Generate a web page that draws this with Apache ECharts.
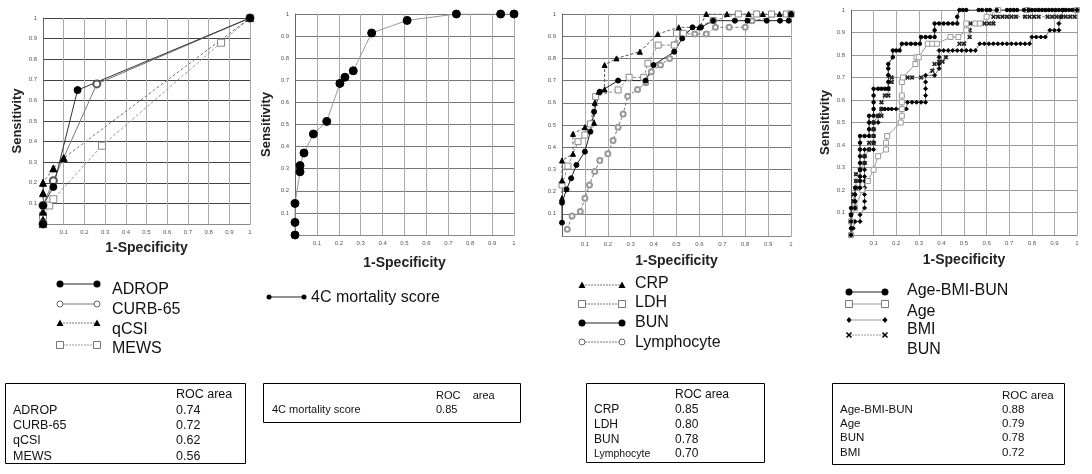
<!DOCTYPE html>
<html>
<head>
<meta charset="utf-8">
<script src="https://cdn.jsdelivr.net/npm/echarts@6/dist/echarts.min.js"></script>
<style>
html, body { margin: 0; padding: 0; background: #fff; }
#main { width: 1092px; height: 474px; }
</style>
</head>
<body>
<div id="main"></div>
<script>
// panel 1 : scores
var adrop  = [[0,0],[0,0.09],[0.05,0.18],[0.167,0.65],[1,1]];
var curb65 = [[0,0],[0,0.09],[0.05,0.21],[0.26,0.68],[1,1]];
var qcsi   = [[0,0],[0,0.02],[0,0.06],[0,0.15],[0,0.2],[0.05,0.27],[0.1,0.32],[1,1]];
var mews   = [[0,0],[0,0.04],[0.03,0.09],[0.05,0.12],[0.285,0.38],[0.86,0.88],[1,1]];

// panel 2 : 4C
var score4c = [[0,0],[0,0.057],[0,0.143],[0.023,0.286],[0.023,0.314],[0.041,0.371],[0.084,0.457],
  [0.145,0.514],[0.205,0.686],[0.228,0.714],[0.266,0.743],[0.35,0.914],[0.512,0.971],[0.737,1],[0.939,1],[1,1]];

// panel 3 : lab values
var crp = [[0,0.17],[0,0.25],[0,0.34],[0.048,0.37],[0.048,0.46],[0.1,0.49],[0.14,0.51],[0.143,0.6],[0.16,0.65],
  [0.186,0.66],[0.186,0.77],[0.238,0.8],[0.34,0.83],[0.418,0.91],[0.51,0.94],[0.6,0.94],[0.63,1],[0.72,1],
  [0.815,1],[0.877,1],[0.95,1],[1,1]];
var ldh = [[0,0.23],[0.026,0.315],[0.07,0.425],[0.1,0.455],[0.124,0.505],[0.147,0.628],[0.245,0.658],[0.293,0.715],
  [0.357,0.715],[0.375,0.778],[0.42,0.86],[0.49,0.86],[0.5,0.913],[0.53,0.913],[0.66,0.971],[0.77,1],[0.85,1],
  [0.915,1],[0.98,1],[1,1]];
var bun3 = [[0,0.06],[0,0.15],[0.02,0.21],[0.04,0.26],[0.063,0.32],[0.1,0.38],[0.124,0.47],[0.14,0.56],[0.165,0.65],
  [0.245,0.7],[0.365,0.7],[0.4,0.77],[0.49,0.83],[0.525,0.89],[0.57,0.94],[0.607,0.94],[0.66,0.97],[0.755,0.97],
  [0.81,0.97],[0.894,0.97],[0.952,0.97],[0.99,0.97],[1,1]];
var lymph = [[0.023,0.03],[0.044,0.09],[0.08,0.11],[0.1,0.17],[0.12,0.23],[0.143,0.29],[0.165,0.34],[0.2,0.37],
  [0.223,0.43],[0.245,0.49],[0.267,0.55],[0.287,0.63],[0.33,0.66],[0.366,0.69],[0.39,0.74],[0.43,0.77],[0.47,0.8],
  [0.49,0.86],[0.53,0.91],[0.58,0.91],[0.63,0.91],[0.67,0.94],[0.73,0.94],[0.8,0.94],[0.83,0.97],[1,1]];

// panel 4 : combination
var ageBmiBun = [[0,0],[0,0.03],[0,0.06],[0,0.09],[0,0.12],[0.018,0.12],[0.018,0.15],[0.018,0.18],[0.018,0.21],
  [0.04,0.21],[0.04,0.24],[0.04,0.26],[0.04,0.29],[0.04,0.32],[0.04,0.35],[0.04,0.38],[0.04,0.41],[0.04,0.44],
  [0.06,0.44],[0.08,0.44],[0.08,0.47],[0.08,0.5],[0.08,0.53],[0.1,0.53],[0.1,0.56],[0.1,0.59],[0.1,0.62],[0.1,0.65],
  [0.12,0.65],[0.135,0.65],[0.15,0.65],[0.165,0.65],[0.165,0.68],[0.165,0.71],[0.165,0.74],[0.165,0.76],
  [0.185,0.79],[0.185,0.82],[0.2,0.82],[0.215,0.82],[0.225,0.85],[0.245,0.85],[0.265,0.85],[0.285,0.85],
  [0.305,0.85],[0.31,0.88],[0.33,0.88],[0.35,0.88],[0.37,0.88],[0.37,0.91],[0.37,0.94],[0.39,0.94],[0.41,0.94],
  [0.43,0.94],[0.45,0.94],[0.47,0.94],[0.47,0.97],[0.48,1],[0.495,1],[0.51,1],[0.565,1],[0.58,1],[0.6,1],[0.615,1],
  [0.645,1],[0.69,1],[0.705,1],[0.72,1],[0.735,1],[0.765,1],[0.785,1],[0.8,1],[0.815,1],[0.83,1],[0.845,1],
  [0.86,1],[0.875,1],[0.89,1],[0.905,1],[0.92,1],[0.935,1],[0.95,1],[0.965,1],[0.98,1],[1,1]];
var age = [[0,0],[0,0.06],[0.018,0.12],[0.05,0.2],[0.075,0.24],[0.1,0.29],[0.12,0.35],[0.155,0.38],[0.155,0.41],
  [0.16,0.44],[0.22,0.5],[0.225,0.53],[0.225,0.56],[0.225,0.59],[0.225,0.62],[0.225,0.68],[0.23,0.7],[0.285,0.76],
  [0.29,0.79],[0.3,0.79],[0.34,0.85],[0.36,0.85],[0.38,0.85],[0.44,0.88],[0.475,0.88],[0.51,0.91],[0.51,0.94],
  [0.55,0.94],[0.57,0.94],[0.6,0.97],[0.65,1],[0.78,1],[1,1]];
var bmi = [[0,0],[0.01,0.03],[0.018,0.06],[0.04,0.06],[0.04,0.09],[0.06,0.12],[0.06,0.15],[0.06,0.18],[0.06,0.21],
  [0.06,0.24],[0.06,0.26],[0.06,0.29],[0.06,0.32],[0.06,0.35],[0.06,0.38],[0.08,0.38],[0.1,0.38],[0.1,0.41],
  [0.1,0.44],[0.1,0.47],[0.1,0.5],[0.12,0.5],[0.12,0.53],[0.135,0.56],[0.15,0.56],[0.165,0.56],[0.18,0.56],
  [0.2,0.56],[0.22,0.56],[0.245,0.56],[0.25,0.59],[0.27,0.59],[0.29,0.59],[0.31,0.59],[0.33,0.59],[0.33,0.62],
  [0.33,0.65],[0.33,0.68],[0.33,0.71],[0.37,0.71],[0.39,0.74],[0.39,0.76],[0.39,0.79],[0.39,0.82],[0.41,0.82],
  [0.43,0.82],[0.45,0.82],[0.47,0.82],[0.49,0.82],[0.51,0.82],[0.53,0.82],[0.55,0.82],[0.57,0.85],[0.59,0.85],
  [0.61,0.85],[0.63,0.85],[0.65,0.85],[0.67,0.85],[0.69,0.85],[0.71,0.85],[0.73,0.85],[0.75,0.85],[0.77,0.85],
  [0.79,0.85],[0.8,0.88],[0.82,0.88],[0.84,0.88],[0.86,0.88],[0.88,0.91],[0.9,0.91],[0.92,0.91],[0.92,0.94],
  [0.93,0.97],[0.94,1],[1,1]];
var bun4 = [[0,0],[0,0.06],[0,0.09],[0.01,0.15],[0.01,0.18],[0.022,0.21],[0.022,0.24],[0.022,0.27],[0.04,0.29],
  [0.06,0.32],[0.06,0.35],[0.08,0.38],[0.08,0.41],[0.1,0.41],[0.1,0.44],[0.1,0.47],[0.1,0.5],[0.12,0.53],
  [0.135,0.53],[0.135,0.56],[0.135,0.59],[0.15,0.62],[0.165,0.62],[0.165,0.65],[0.18,0.68],[0.18,0.7],[0.23,0.7],
  [0.25,0.7],[0.27,0.7],[0.31,0.7],[0.36,0.73],[0.37,0.76],[0.39,0.77],[0.405,0.77],[0.42,0.79],[0.48,0.85],
  [0.5,0.85],[0.525,0.88],[0.525,0.91],[0.53,0.94],[0.59,0.94],[0.61,0.94],[0.63,0.94],[0.63,0.97],[0.65,0.97],
  [0.67,0.97],[0.69,0.97],[0.71,0.97],[0.73,0.97],[0.77,0.97],[0.79,0.97],[0.81,0.97],[0.83,0.97],[0.87,0.97],
  [0.89,0.97],[0.91,0.97],[0.93,0.97],[0.95,0.97],[0.97,0.97],[0.99,0.97],[1,1]];

// ROC area tables
var table1 = [['ADROP','0.74'],['CURB-65','0.72'],['qCSI','0.62'],['MEWS','0.56']];
var table2 = [['4C mortality score','0.85']];
var table3 = [['CRP','0.85'],['LDH','0.80'],['BUN','0.78'],['Lymphocyte','0.70']];
var table4 = [['Age-BMI-BUN','0.88'],['Age','0.79'],['BUN','0.78'],['BMI','0.72']];

var FONT = '"Liberation Sans", Arial, sans-serif';
var CROSS = 'path://M2,0L5,3L8,0L10,2L7,5L10,8L8,10L5,7L2,10L0,8L3,5L0,2Z';

function tick(v) { return v === 0 ? '' : String(+v.toFixed(1)); }

function xAx(i, gap) {
	return {
		type: 'value', gridIndex: i, min: 0, max: 1, interval: 0.1,
		name: '1-Specificity', nameLocation: 'middle', nameGap: gap,
		nameTextStyle: { fontFamily: FONT, fontWeight: 'bold', fontSize: 14, color: '#222' },
		axisLine: { show: true, lineStyle: { color: '#888' } },
		axisTick: { show: false },
		axisLabel: { fontSize: 6, color: '#555', margin: 5, formatter: tick },
		splitLine: { show: true, lineStyle: { color: '#aaa' } }
	};
}
function yAx(i, gap, named, hColor) {
	return {
		type: 'value', gridIndex: i, min: 0, max: 1, interval: 0.1,
		name: named ? 'Sensitivity' : '', nameLocation: 'middle', nameGap: gap,
		nameTextStyle: { fontFamily: FONT, fontWeight: 'bold', fontSize: 13, color: '#222' },
		axisLine: { show: true, lineStyle: { color: '#666' } },
		axisTick: { show: false },
		axisLabel: { fontSize: 6, color: '#555', margin: 6, formatter: tick },
		splitLine: { show: true, lineStyle: { color: hColor } }
	};
}
function ser(i, name, data, symbol, size, color, line, dashed) {
	return {
		name: name, type: 'line', xAxisIndex: i, yAxisIndex: i, data: data,
		symbol: symbol, symbolSize: size, silent: true, animation: false,
		itemStyle: { color: color, borderColor: color, borderWidth: 1 },
		lineStyle: { color: line, width: 1, type: dashed ? [3, 2] : 'solid' },
		z: 3
	};
}

// legend markers drawn as graphics
function mark(kind, cx, cy) {
	if (kind === 'dot') return { type: 'circle', shape: { cx: cx, cy: cy, r: 3.5 }, style: { fill: '#000' } };
	if (kind === 'sdot') return { type: 'circle', shape: { cx: cx, cy: cy, r: 2.5 }, style: { fill: '#000' } };
	if (kind === 'ring') return { type: 'circle', shape: { cx: cx, cy: cy, r: 3 }, style: { fill: '#fff', stroke: '#666' } };
	if (kind === 'tri') return { type: 'polygon', shape: { points: [[cx, cy - 3.5], [cx + 3.5, cy + 3], [cx - 3.5, cy + 3]] }, style: { fill: '#000' } };
	if (kind === 'sq') return { type: 'rect', shape: { x: cx - 3.5, y: cy - 3.5, width: 7, height: 7 }, style: { fill: '#fff', stroke: '#777' } };
	if (kind === 'dia') return { type: 'polygon', shape: { points: [[cx, cy - 3], [cx + 2.5, cy], [cx, cy + 3], [cx - 2.5, cy]] }, style: { fill: '#000' } };
	return { type: 'group', children: [
		{ type: 'line', shape: { x1: cx - 2.5, y1: cy - 2.5, x2: cx + 2.5, y2: cy + 2.5 }, style: { stroke: '#000', lineWidth: 1.5 } },
		{ type: 'line', shape: { x1: cx + 2.5, y1: cy - 2.5, x2: cx - 2.5, y2: cy + 2.5 }, style: { stroke: '#000', lineWidth: 1.5 } }
	] };
}
function legendRow(x1, x2, ys, kind, dashed, color) {
	return [
		{ type: 'line', shape: { x1: x1, y1: ys, x2: x2, y2: ys }, style: { stroke: color, lineWidth: 1, lineDash: dashed ? [2, 1] : null } },
		mark(kind, x1, ys), mark(kind, x2, ys)
	];
}
function label(x, y, text, size) {
	return { type: 'text', style: { x: x, y: y, text: text, fill: '#111', font: size + 'px ' + FONT, verticalAlign: 'middle' } };
}
function table(box, hx, hy, header, rows, rx, ys, size) {
	var out = [{ type: 'rect', shape: box, style: { fill: 'none', stroke: '#000', lineWidth: 1 } }];
	out.push(label(hx, hy, header, size));
	rows.forEach(function (r, k) {
		out.push(label(rx, ys[k], r[0], k === 3 && r[0] === 'Lymphocyte' ? size - 1.5 : size));
		out.push(label(hx, ys[k], r[1], size));
	});
	return out;
}

var g = [];
// legend panel 1
g = g.concat(legendRow(60, 97, 284, 'dot', false, '#222'), [label(112, 290, 'ADROP', 16)]);
g = g.concat(legendRow(60, 97, 304, 'ring', false, '#777'), [label(112, 310, 'CURB-65', 16)]);
g = g.concat(legendRow(60, 97, 323, 'tri', true, '#777'), [label(112, 330, 'qCSI', 16)]);
g = g.concat(legendRow(60, 97, 345, 'sq', true, '#999'), [label(112, 349, 'MEWS', 16)]);
// legend panel 2
g = g.concat(legendRow(269, 304, 297, 'sdot', false, '#222'), [label(311, 298, '4C mortality score', 16)]);
// legend panel 3
g = g.concat(legendRow(582, 622, 285, 'tri', true, '#777'), [label(635, 284, 'CRP', 16)]);
g = g.concat(legendRow(582, 622, 304, 'sq', true, '#777'), [label(635, 303, 'LDH', 16)]);
g = g.concat(legendRow(582, 622, 323, 'dot', false, '#222'), [label(635, 323, 'BUN', 16)]);
g = g.concat(legendRow(582, 622, 342, 'ring', true, '#777'), [label(635, 343, 'Lymphocyte', 16)]);
// legend panel 4
g = g.concat(legendRow(849, 885, 292, 'dot', false, '#222'), [label(907, 291, 'Age-BMI-BUN', 16)]);
g = g.concat(legendRow(849, 885, 304, 'sq', false, '#999'), [label(907, 312, 'Age', 16)]);
g = g.concat(legendRow(849, 885, 320, 'dia', false, '#999'), [label(907, 330, 'BMI', 16)]);
g = g.concat(legendRow(849, 885, 335, 'x', true, '#999'), [label(907, 350, 'BUN', 16)]);
// tables
g = g.concat(table({ x: 5.5, y: 383.5, width: 240, height: 80 }, 176, 395, 'ROC area', table1, 13, [411, 426, 441, 457], 12.5));
g = g.concat(table({ x: 263.5, y: 383.5, width: 257, height: 39 }, 436, 396, 'ROC    area', table2, 272, [410], 11));
g = g.concat(table({ x: 586.5, y: 383.5, width: 178, height: 79 }, 675, 395, 'ROC area', table3, 594, [410, 425, 440, 454], 12));
g = g.concat(table({ x: 832.5, y: 383.5, width: 232, height: 81 }, 1002, 396, 'ROC area', table4, 840, [410, 424, 438, 453], 11.5));

var option = {
	backgroundColor: '#fff',
	animation: false,
	grid: [
		{ left: 43, top: 18, width: 207, height: 206 },
		{ left: 295, top: 14, width: 219, height: 221 },
		{ left: 562, top: 14, width: 229, height: 222 },
		{ left: 851, top: 10, width: 226, height: 225 }
	],
	xAxis: [xAx(0, 17), xAx(1, 21), xAx(2, 18), xAx(3, 18)],
	yAxis: [yAx(0, 19, true, '#444'), yAx(1, 22, true, '#777'), yAx(2, 20, false, '#777'), yAx(3, 19, true, '#999')],
	series: [
		ser(0, 'MEWS', mews, 'rect', 7, '#888', '#999', true),
		ser(0, 'qCSI', qcsi, 'triangle', 7, '#000', '#777', true),
		ser(0, 'CURB-65', curb65, 'emptyCircle', 7, '#555', '#777', false),
		ser(0, 'ADROP', adrop, 'circle', 7, '#000', '#333', false),
		ser(1, '4C mortality score', score4c, 'circle', 8, '#000', '#999', false),
		ser(2, 'Lymphocyte', lymph, 'emptyCircle', 5, '#999', '#777', true),
		ser(2, 'LDH', ldh, 'rect', 6, '#888', '#888', true),
		ser(2, 'CRP', crp, 'triangle', 5, '#000', '#555', true),
		ser(2, 'BUN', bun3, 'circle', 5, '#000', '#222', false),
		ser(3, 'BMI', bmi, 'diamond', 4, '#000', '#777', false),
		ser(3, 'BUN', bun4, CROSS, 4, '#222', '#888', true),
		ser(3, 'Age', age, 'rect', 5, '#999', '#999', false),
		ser(3, 'Age-BMI-BUN', ageBmiBun, 'circle', 3.5, '#000', '#222', false)
	],
	graphic: g
};

// keep open symbols white inside
option.series.forEach(function (s) {
	if (s.symbol === 'rect') { s.itemStyle = { color: '#fff', borderColor: s.itemStyle.color, borderWidth: 1 }; }
});

var myChart = echarts.init(document.getElementById('main'));
myChart.setOption(option);
</script>
</body>
</html>
